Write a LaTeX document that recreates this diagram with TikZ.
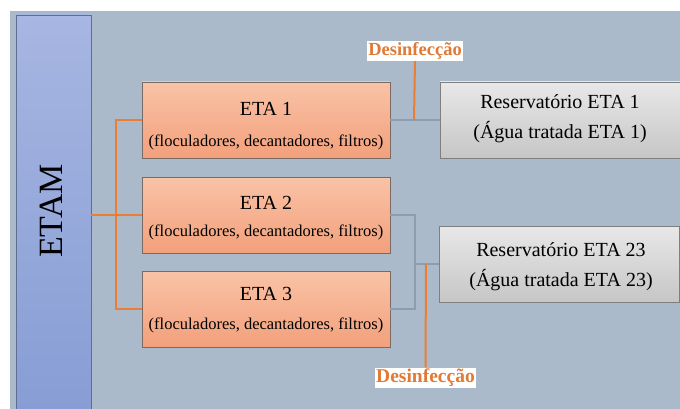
\documentclass[tikz,border=0pt]{standalone}
\usepackage{fontspec}
\setmainfont{Liberation Serif}
\definecolor{panel}{HTML}{ABBACB}
\definecolor{barTop}{HTML}{A7B6E2}
\definecolor{barBot}{HTML}{879DD4}
\definecolor{barLine}{HTML}{5E6E90}
\definecolor{orTop}{HTML}{F9C3A6}
\definecolor{orBot}{HTML}{F3A07C}
\definecolor{orLine}{HTML}{7A6A64}
\definecolor{grTop}{HTML}{E8E8E8}
\definecolor{grBot}{HTML}{C6C6C6}
\definecolor{grLine}{HTML}{7F7F7F}
\definecolor{conn}{HTML}{ED7D31}
\definecolor{gconn}{HTML}{8E9CB0}
\definecolor{dtext}{HTML}{E07A36}
\tikzset{
  etabox/.style={draw=orLine, line width=0.8pt, top color=orTop, bottom color=orBot, minimum width=248pt, minimum height=76pt, inner sep=0pt},
  resbox/.style={draw=grLine, line width=0.8pt, top color=grTop, bottom color=grBot, minimum width=238pt, minimum height=76pt, inner sep=0pt},
  etatitle/.style={font=\fontsize{20}{24}\selectfont, inner sep=0pt},
  etasub/.style={font=\fontsize{16.5}{20}\selectfont, inner sep=0pt},
  restext/.style={font=\fontsize{20}{24}\selectfont, inner sep=0pt},
  dlabel/.style={fill=white, text=dtext, font=\bfseries\fontsize{18.5}{22}\selectfont, inner xsep=1.5pt, inner ysep=1.5pt},
  oline/.style={draw=conn, line width=2pt},
  gline/.style={draw=gconn, line width=1.5pt}
}
\begin{document}
\begin{tikzpicture}[x=1pt,y=-1pt]
\useasboundingbox (0,0) rectangle (680,409);
\fill[white] (0,0) rectangle (680,409);
\fill[panel] (10,11) rectangle (680,409);
% ETAM bar
\node[draw=barLine, line width=0.8pt, top color=barTop, bottom color=barBot, minimum width=75pt, minimum height=396pt, inner sep=0pt] (etam) at (53.5,213) {};
\node[rotate=90, font=\fontsize{34}{40}\selectfont, inner sep=0pt] (etamt) at (51,211) {ETAM};
% ETA boxes
\node[etabox] (e1) at (266,120) {};
\node[etabox] (e2) at (266,215) {};
\node[etabox] (e3) at (266,309) {};
\node[etatitle] (e1a) at (266,109) {ETA 1};
\node[etasub]   (e1b) at (266,142) {(floculadores, decantadores, filtros)};
\node[etatitle] (e2a) at (266,203) {ETA 2};
\node[etasub]   (e2b) at (266,232) {(floculadores, decantadores, filtros)};
\node[etatitle] (e3a) at (266,294) {ETA 3};
\node[etasub]   (e3b) at (266,325) {(floculadores, decantadores, filtros)};
% reservoirs
\node[resbox, minimum width=240pt] (r1) at (560,120) {};
\node[resbox, minimum width=240pt] (r2) at (559,264) {};
\node[restext] (r1a) at (560,102) {Reservatório ETA 1};
\node[restext] (r1b) at (560,132) {(Água tratada ETA 1)};
\node[restext] (r2a) at (561,250) {Reservatório ETA 23};
\node[restext] (r2b) at (561,280) {(Água tratada ETA 23)};
% orange distribution from ETAM
\coordinate (split) at (116,215);
\draw[oline] (etam.east |- split) -- (e2.west);
\draw[oline] (e1.west) -| (split) |- (e3.west);
% ETA1 -> reservoir 1
\coordinate (j1) at (414,120);
\draw[gline] (e1.east) -- (r1.west);
\node[dlabel] (d1) at (415,51) {Desinfecção};
\draw[oline] (d1.south) -- (j1);
% ETA2,3 -> reservoir 23
\coordinate (c2) at (415,215);
\coordinate (c3) at (415,309);
\coordinate (j2) at (415,264);
\coordinate (j3) at (426,264);
\draw[gline] (e2.east) -- (c2) -- (c3) -- (e3.east);
\draw[gline] (j2) -- (r2.west);
\node[dlabel, font=\bfseries\fontsize{19.5}{23}\selectfont] (d2) at (425.5,378) {Desinfecção};
\draw[oline] (j3) -- (d2.north);
\end{tikzpicture}
\end{document}
